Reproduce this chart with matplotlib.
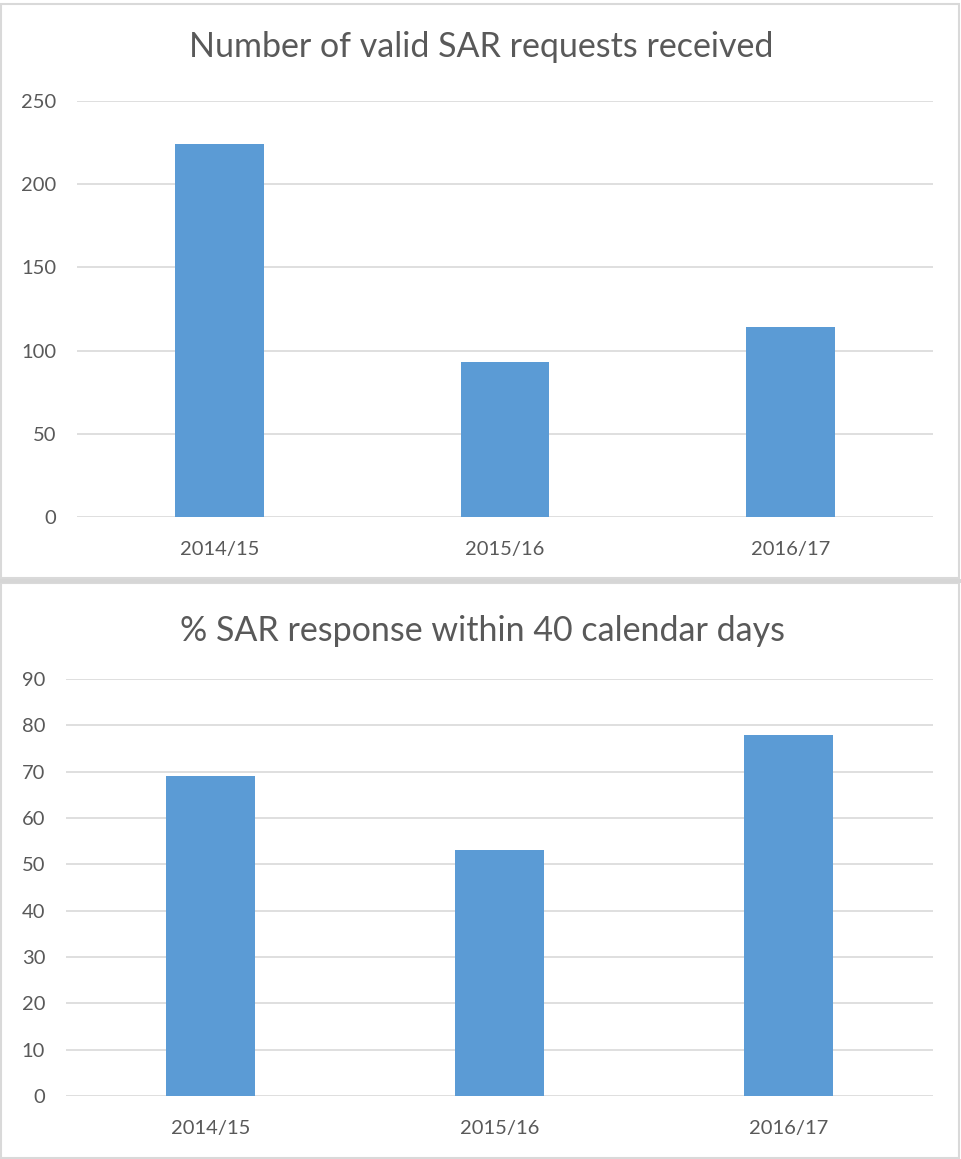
import matplotlib
matplotlib.use('Agg')
import matplotlib.pyplot as plt
from matplotlib.patches import Rectangle

# Years and the two measures shown per year
years = ['2014/15', '2015/16', '2016/17']
valid_requests = [224, 93, 114]
pct_within_40_days = [69, 53, 78]

bar_colour = '#5b9bd5'
grid_colour = '#d9d9d9'
text_colour = '#595959'

plt.rcParams['font.family'] = ['Lato', 'DejaVu Sans']

W, H = 961, 1159
fig = plt.figure(figsize=(W / 100, H / 100), dpi=100)


def px_axes(left, top, right, bottom):
    # convert pixel box (from top-left) to figure fractions
    return fig.add_axes([left / W, 1 - bottom / H, (right - left) / W, (bottom - top) / H])


def style(ax, ymax, step):
    ax.set_ylim(0, ymax)
    ax.set_xlim(-0.5, len(years) - 0.5)
    ax.set_yticks(range(0, ymax + 1, step))
    ax.yaxis.grid(True, color=grid_colour, linewidth=1.2)
    ax.set_axisbelow(True)
    for s in ax.spines.values():
        s.set_visible(False)
    ax.tick_params(axis='both', length=0, labelsize=14.5, labelcolor=text_colour)
    ax.tick_params(axis='y', pad=15)
    ax.tick_params(axis='x', pad=17)


# panel frames
fig.patches.append(Rectangle((1 / W, 1 - 578 / H), 958 / W, 574 / H, transform=fig.transFigure,
                             fill=False, edgecolor=grid_colour, linewidth=1.5))
fig.patches.append(Rectangle((1 / W, 1 / H), 958 / W, (1159 - 584) / H, transform=fig.transFigure,
                             fill=False, edgecolor=grid_colour, linewidth=1.5))
fig.patches.append(Rectangle((0, 1 - 583 / H), 1, 4 / H, transform=fig.transFigure,
                             color='#d6d6d6', linewidth=0))

# top chart: number of valid requests
ax1 = px_axes(77, 101, 933, 517)
ax1.bar(years, valid_requests, width=0.31, color=bar_colour)
style(ax1, 250, 50)
fig.text(481 / W, 1 - 47 / H, 'Number of valid SAR requests received', ha='center', va='center',
         fontsize=24.5, color=text_colour)

# bottom chart: percentage answered within 40 days
ax2 = px_axes(66, 679, 933, 1096)
ax2.bar(years, pct_within_40_days, width=0.31, color=bar_colour)
style(ax2, 90, 10)
fig.text(483 / W, 1 - 631 / H, '% SAR response within 40 calendar days', ha='center', va='center',
         fontsize=24.5, color=text_colour)

fig.savefig('out.png', dpi=100)
